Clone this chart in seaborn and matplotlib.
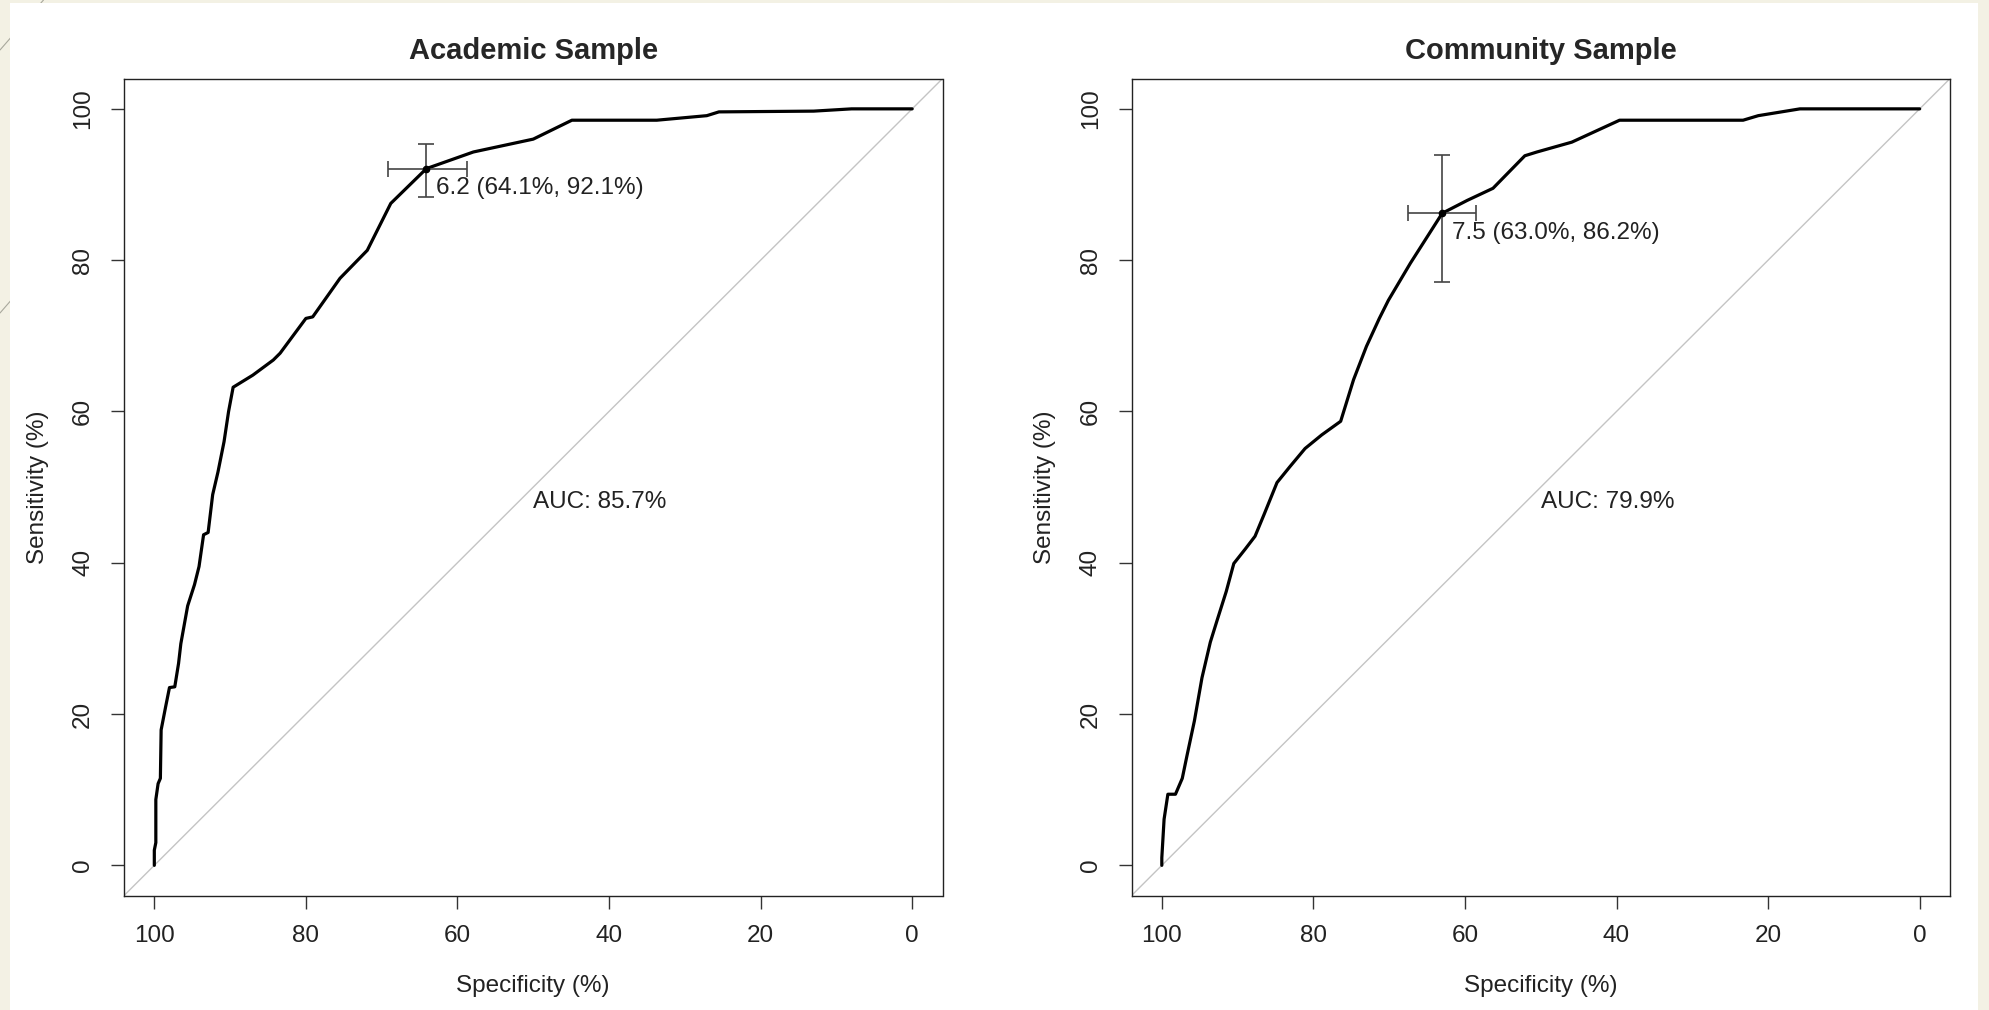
import pandas as pd
import seaborn as sns
import matplotlib.pyplot as plt
from matplotlib.lines import Line2D
from matplotlib.patches import Rectangle

# Curvas ROC (especificidade, sensibilidade em %)
academic_spec = [100, 100, 99.8, 99.8, 99.5, 99.2, 99.1, 98.5, 98.0, 97.3, 96.8, 96.5,
                 95.6, 94.7, 94.1, 93.5, 92.9, 92.3, 91.6, 90.8, 90.2, 89.6, 87.0, 84.3,
                 83.4, 80.0, 79.1, 75.5, 71.9, 68.8, 64.1, 57.9, 50.0, 44.9, 33.7, 27.1,
                 25.5, 13.0, 8.0, 0]
academic_sens = [0, 2, 3, 8.7, 10.8, 11.5, 17.9, 21, 23.5, 23.6, 26.7, 29.3,
                 34.3, 37.1, 39.5, 43.7, 44, 49, 52, 56, 60, 63.2, 64.8, 66.8,
                 67.7, 72.3, 72.5, 77.6, 81.3, 87.5, 92.1, 94.3, 96.0, 98.5, 98.5, 99.1,
                 99.6, 99.7, 100, 100]

community_spec = [100, 100, 99.7, 99.2, 98.2, 97.3, 96.7, 95.7, 94.7, 93.6, 92.7, 91.5,
                  90.5, 89.0, 87.7, 86.5, 84.8, 83.1, 81.1, 78.9, 76.4, 74.7, 73.0, 71.3,
                  70.1, 67.2, 63.0, 59.7, 56.3, 52.1, 50.5, 45.9, 39.6, 23.3, 21.3, 15.8, 0]
community_sens = [0, 1, 6.1, 9.4, 9.4, 11.5, 14.4, 19.1, 24.8, 29.5, 32.4, 36.2,
                  39.9, 41.8, 43.5, 46.4, 50.6, 52.7, 55.1, 56.9, 58.7, 64.2, 68.6, 72.3,
                  74.7, 79.6, 86.2, 87.9, 89.5, 93.8, 94.3, 95.6, 98.5, 98.5, 99.1, 100, 100]

# Limiar otimo e intervalos de confianca
titles = ['Academic Sample', 'Community Sample']
thresholds = ['6.2', '7.5']
best_spec = [64.1, 63.0]
best_sens = [92.1, 86.2]
spec_ci = [(58.8, 69.2), (58.5, 67.5)]
sens_ci = [(88.3, 95.4), (77.1, 93.9)]
aucs = [85.7, 79.9]
ticks = [0, 20, 40, 60, 80, 100]

sns.set_style("ticks")
plt.rcParams['font.family'] = ['Liberation Sans', 'DejaVu Sans']

fig = plt.figure(figsize=(19.89, 10.10), dpi=100)
fig.patch.set_facecolor('#f3f1e4')

# linhas decorativas do fundo do slide
fig.add_artist(Line2D([0, 43.5 / 1989], [1 - 50 / 1010, 1], color='#a8a89c', lw=0.8, zorder=-2))
fig.add_artist(Line2D([0, 20 / 1989], [1 - 313 / 1010, 1 - 290 / 1010], color='#a8a89c', lw=0.8, zorder=-2))
fig.add_artist(Rectangle((10 / 1989, 0), 1968 / 1989, 1 - 3 / 1010,
                         transform=fig.transFigure, facecolor='white', edgecolor='none', zorder=-1))

curves = [(academic_spec, academic_sens), (community_spec, community_sens)]
lefts = [124 / 1989, 1131.5 / 1989]

for i in range(2):
    ax = fig.add_axes([lefts[i], 1 - 895.6 / 1010, 818.5 / 1989, 817 / 1010])
    ax.set_facecolor('white')
    df = pd.DataFrame({'spec': curves[i][0], 'sens': curves[i][1]})

    ax.axline((100, 0), (0, 100), color='#c4c4c4', lw=1.0, zorder=1)
    sns.lineplot(x='spec', y='sens', data=df, sort=False, estimator=None,
                 color='black', lw=2.3, ax=ax, zorder=3)

    ax.errorbar(best_spec[i], best_sens[i],
                xerr=[[best_spec[i] - spec_ci[i][0]], [spec_ci[i][1] - best_spec[i]]],
                yerr=[[best_sens[i] - sens_ci[i][0]], [sens_ci[i][1] - best_sens[i]]],
                fmt='none', ecolor='#444444', elinewidth=1.2, capsize=6, capthick=1.2, zorder=4)
    ax.plot(best_spec[i], best_sens[i], 'o', color='black', ms=4.5, zorder=5)
    ax.text(best_spec[i] - 1.25, best_sens[i] - 3.4,
            '{} ({:.1f}%, {:.1f}%)'.format(thresholds[i], best_spec[i], best_sens[i]),
            fontsize=17.5, color='#222222', ha='left', va='baseline', zorder=6)
    ax.text(50, 47.2, 'AUC: {:.1f}%'.format(aucs[i]), fontsize=17.5, color='#222222',
            ha='left', va='baseline')

    ax.set_xlim(104, -4)
    ax.set_ylim(-4, 104)
    ax.set_xticks(ticks)
    ax.set_yticks(ticks)
    ax.tick_params(direction='out', length=9.5, width=1.0, color='#333333',
                   labelsize=17.5, labelcolor='#222222', pad=12)
    for lab in ax.get_yticklabels():
        lab.set_rotation(90)
        lab.set_va('center')
    for s in ax.spines.values():
        s.set_visible(True)
        s.set_color('#222222')
        s.set_linewidth(1.0)
    ax.grid(False)

    ax.set_title(titles[i], fontsize=21, fontweight='bold', pad=14)
    ax.set_xlabel('Specificity (%)', fontsize=17.5, color='#222222')
    ax.set_ylabel('Sensitivity (%)', fontsize=17.5, color='#222222')
    ax.xaxis.label.set_va('center')
    ax.yaxis.label.set_va('center')
    ax.xaxis.set_label_coords(0.5, -0.1107)
    ax.yaxis.set_label_coords(-0.1051, 0.5)

plt.savefig('out.png', dpi=100, facecolor=fig.get_facecolor())
